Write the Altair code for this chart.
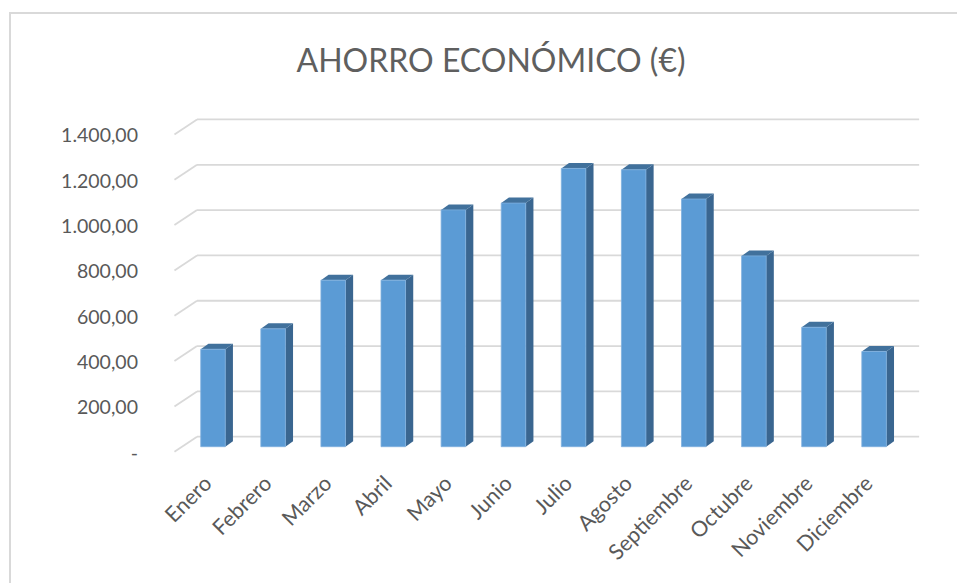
import altair as alt
import pandas as pd

months = ["Enero", "Febrero", "Marzo", "Abril", "Mayo", "Junio", "Julio",
          "Agosto", "Septiembre", "Octubre", "Noviembre", "Diciembre"]
values = [430, 520, 735, 735, 1045, 1075, 1228, 1222, 1093, 842, 527, 420]
tick_values = [0, 200, 400, 600, 800, 1000, 1200, 1400]
tick_labels = ["-", "200,00", "400,00", "600,00", "800,00", "1.000,00", "1.200,00", "1.400,00"]
title_text = "AHORRO ECONÓMICO (€)"

# geometry of the pseudo-3D columns (in data units)
HALF = 0.204      # half width of the front face (category units)
DX = 0.128        # depth shift, category units
DY = 24.3         # depth shift, value units
BACK = 44.1       # back wall shift in value units
FRONT = -22.1     # front edge shift in value units

W, H = 957, 583
xs = alt.Scale(domain=[-3.544, 12.38], nice=False, zero=False)
ys = alt.Scale(domain=[-601.5, 1971.3], nice=False, zero=False)

bars = pd.DataFrame({"month": months, "idx": list(range(len(months))), "value": values})
bars["xl"] = bars["idx"] - HALF
bars["xr"] = bars["idx"] + HALF
bars["zero"] = 0

side_rows, top_rows = [], []
for i, (m, v) in enumerate(zip(months, values)):
    side_rows.append({"month": m, "x": i + HALF, "y": v, "y2": 0})
    side_rows.append({"month": m, "x": i + HALF + DX, "y": v + DY, "y2": DY})
    top_rows.append({"month": m, "y": v, "x": i - HALF, "x2": i + HALF})
    top_rows.append({"month": m, "y": v + DY, "x": i - HALF + DX, "x2": i + HALF + DX})
side = pd.DataFrame(side_rows)
top = pd.DataFrame(top_rows)

grid = pd.DataFrame({"v": tick_values, "label": tick_labels})
grid["back"] = grid["v"] + BACK
grid["front"] = grid["v"] + FRONT
grid["lab"] = grid["v"] - 30.4
grid["gx0"] = -0.266
grid["gx1"] = 11.75
grid["fx"] = -0.641
grid["lx"] = -1.248

base_grid = alt.Chart(grid)
back_lines = base_grid.mark_rule(color="#d9d9d9", strokeWidth=1.8).encode(
    x=alt.X("gx0:Q", scale=xs, axis=None), x2="gx1:Q",
    y=alt.Y("back:Q", scale=ys, axis=None))
diag_lines = base_grid.mark_rule(color="#d9d9d9", strokeWidth=1.8).encode(
    x=alt.X("fx:Q", scale=xs, axis=None), x2="gx0:Q",
    y=alt.Y("front:Q", scale=ys, axis=None), y2="back:Q")
ylabels = base_grid.mark_text(align="right", baseline="middle", font="Lato",
                              fontSize=19.5, color="#595959").encode(
    x=alt.X("lx:Q", scale=xs, axis=None),
    y=alt.Y("lab:Q", scale=ys, axis=None), text="label:N")

front = alt.Chart(bars).mark_bar(color="#5b9bd5", stroke="#7fb0de", strokeWidth=0.8).encode(
    x=alt.X("xl:Q", scale=xs, axis=None), x2="xr:Q",
    y=alt.Y("value:Q", scale=ys, axis=None), y2="zero:Q")

side_face = alt.Chart(side).mark_area(color="#3a6690", orient="vertical").encode(
    x=alt.X("x:Q", scale=xs, axis=None),
    y=alt.Y("y:Q", scale=ys, axis=None, stack=None), y2="y2:Q",
    detail="month:N")

top_face = alt.Chart(top).mark_area(color="#41719c", orient="horizontal").encode(
    y=alt.Y("y:Q", scale=ys, axis=None),
    x=alt.X("x:Q", scale=xs, axis=None, stack=None), x2="x2:Q",
    detail="month:N")

bars2 = bars.copy()
bars2["lx"] = bars2["idx"] - 0.07
bars2["ly"] = -150
xlabels = alt.Chart(bars2).mark_text(align="right", baseline="middle", angle=315,
                                     font="Lato", fontSize=21.5, color="#595959").encode(
    x=alt.X("lx:Q", scale=xs, axis=None),
    y=alt.Y("ly:Q", scale=ys, axis=None), text="month:N")

title = alt.Chart(pd.DataFrame({"t": [title_text]})).mark_text(
    font="Lato", fontSize=32, color="#5f5f5f", align="center", baseline="alphabetic").encode(
    x=alt.value(491), y=alt.value(71.5), text="t:N")

border = alt.Chart(pd.DataFrame({"a": [0]})).mark_rect(
    fill="white", stroke="#d9d9d9", strokeWidth=2).encode(
    x=alt.value(10), x2=alt.value(975), y=alt.value(13), y2=alt.value(600))

chart = alt.layer(border, back_lines, diag_lines, ylabels, side_face, top_face, front,
                  xlabels, title).properties(
    width=W, height=H, autosize=alt.AutoSizeParams(type="none"), padding=0,
    background="white"
).configure_view(stroke=None)

chart.save("out.html", embed_options={"renderer": "svg", "actions": False})
